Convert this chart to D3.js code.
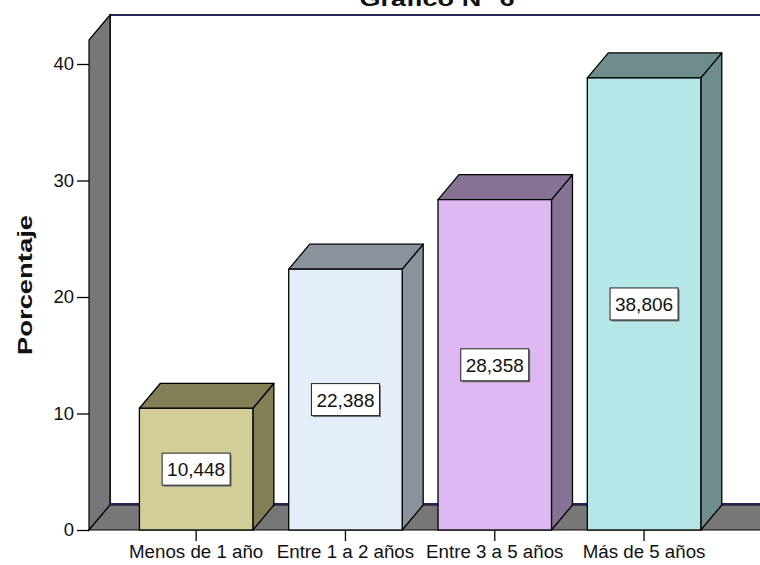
<!DOCTYPE html>
<html>
<head>
<meta charset="utf-8">
<script src="https://cdn.jsdelivr.net/npm/d3@7"></script>
<style>
  html, body { margin: 0; padding: 0; background: #fff; }
  svg { display: block; }
  text { font-family: Arial, "Liberation Sans", sans-serif; }
</style>
</head>
<body>
<script>
const categories = ["Menos de 1 año", "Entre 1 a 2 años", "Entre 3 a 5 años", "Más de 5 años"];
const values = [10.448, 22.388, 28.358, 38.806];
const valueLabels = ["10,448", "22,388", "28,358", "38,806"];
const frontColors = ["#d3ce98", "#e3eefa", "#dfb8f3", "#b5e6e8"];
const sideColors = ["#838058", "#8a939b", "#867294", "#6f8d8c"];
const yTicks = [0, 10, 20, 30, 40];
const titleText = "Gráfico N° 6";
const yLabel = "Porcentaje";

const W = 760, H = 565;
const DX = 21, DY = -25;
const FONT = "Arial, 'Liberation Sans', sans-serif";
const svg = d3.select("body").append("svg").attr("width", W).attr("height", H);

const y = d3.scaleLinear().domain([0, 40]).range([530, 64]);
const x = d3.scaleBand().domain(categories).range([121.5, 718.7]).paddingInner(0.24).paddingOuter(0.12);

function stretch(sel, factor) {
  sel.each(function() {
    const len = this.getComputedTextLength();
    d3.select(this).attr("textLength", len * factor).attr("lengthAdjust", "spacingAndGlyphs");
  });
}

const plotLeft = 89, plotRight = 754;
const y0 = y(0), yTop = 40;

// back wall
svg.append("rect")
  .attr("x", plotLeft + DX).attr("y", yTop + DY)
  .attr("width", plotRight - plotLeft + 20).attr("height", y0 - yTop)
  .attr("fill", "#fff").attr("stroke", "#23235e").attr("stroke-width", 2);

// left wall
svg.append("path")
  .attr("d", d3.line()([[plotLeft, yTop], [plotLeft + DX, yTop + DY], [plotLeft + DX, y0 + DY], [plotLeft, y0]]) + "Z")
  .attr("fill", "#777").attr("stroke", "#000").attr("stroke-width", 1.2);

// floor
svg.append("path")
  .attr("d", d3.line()([[plotLeft, y0], [plotLeft + DX, y0 + DY], [plotRight + DX + 10, y0 + DY], [plotRight + 10, y0]]) + "Z")
  .attr("fill", "#777").attr("stroke", "#000").attr("stroke-width", 1.2);
svg.append("line")
  .attr("x1", plotLeft + DX).attr("x2", W).attr("y1", y0 + DY - 1).attr("y2", y0 + DY - 1)
  .attr("stroke", "#23235e").attr("stroke-width", 2);

// bars
const bars = svg.append("g").selectAll("g").data(categories).join("g");
bars.each(function(c, i) {
  const g = d3.select(this);
  const x0 = x(c), x1 = x(c) + x.bandwidth();
  const yt = y(values[i]);
  g.append("path")
    .attr("d", d3.line()([[x1, yt], [x1 + DX, yt + DY], [x1 + DX, y0 + DY], [x1, y0]]) + "Z")
    .attr("fill", sideColors[i]).attr("stroke", "#000").attr("stroke-width", 1.3).attr("stroke-linejoin", "round");
  g.append("path")
    .attr("d", d3.line()([[x0, yt], [x0 + DX, yt + DY], [x1 + DX, yt + DY], [x1, yt]]) + "Z")
    .attr("fill", sideColors[i]).attr("stroke", "#000").attr("stroke-width", 1.3).attr("stroke-linejoin", "round");
  g.append("rect")
    .attr("x", x0).attr("y", yt).attr("width", x.bandwidth()).attr("height", y0 - yt)
    .attr("fill", frontColors[i]).attr("stroke", "#000").attr("stroke-width", 1.3);
  const cx = x0 + x.bandwidth() / 2, cy = (yt + y0) / 2;
  const bw = 68, bh = 32;
  g.append("rect")
    .attr("x", cx - bw / 2 + 1.5).attr("y", cy - bh / 2 + 1.5).attr("width", bw).attr("height", bh)
    .attr("fill", "#777");
  g.append("rect")
    .attr("x", cx - bw / 2).attr("y", cy - bh / 2).attr("width", bw).attr("height", bh)
    .attr("fill", "#fff").attr("stroke", "#222").attr("stroke-width", 1);
  g.append("text")
    .attr("x", cx).attr("y", cy + 7).attr("text-anchor", "middle")
    .attr("font-size", 19).attr("fill", "#111").text(valueLabels[i]);
});

// y axis
const yAxis = d3.axisLeft(y).tickValues(yTicks).tickSize(12).tickPadding(3).tickFormat(d3.format("d"));
const ya = svg.append("g").attr("transform", `translate(${plotLeft},0)`).call(yAxis);
ya.attr("font-size", null).attr("font-family", null);
ya.select(".domain").remove();
ya.selectAll(".tick line").attr("stroke", "#000").attr("stroke-width", 1.3);
ya.selectAll(".tick text").attr("font-size", 18.5).attr("fill", "#111").attr("font-family", FONT);

// x axis
const xAxis = d3.axisBottom(x).tickSize(11).tickPadding(4);
const xa = svg.append("g").attr("transform", `translate(0,${y0})`).call(xAxis);
xa.attr("font-size", null).attr("font-family", null);
xa.select(".domain").remove();
xa.selectAll(".tick line").attr("stroke", "#000").attr("stroke-width", 1.3);
xa.selectAll(".tick text").attr("font-size", 18).attr("fill", "#111").attr("font-family", FONT);
stretch(xa.selectAll(".tick text"), 1.04);

// y label
svg.append("text")
  .attr("transform", `translate(32,285) rotate(-90)`)
  .attr("text-anchor", "middle").attr("font-size", 21).attr("font-weight", "bold")
  .attr("fill", "#111").attr("textLength", 140).attr("lengthAdjust", "spacingAndGlyphs").text(yLabel);

// title
svg.append("text")
  .attr("x", 437).attr("y", 6).attr("text-anchor", "middle")
  .attr("font-size", 20).attr("font-weight", "bold").attr("fill", "#111")
  .attr("textLength", 155).attr("lengthAdjust", "spacingAndGlyphs").text(titleText);
</script>
</body>
</html>
